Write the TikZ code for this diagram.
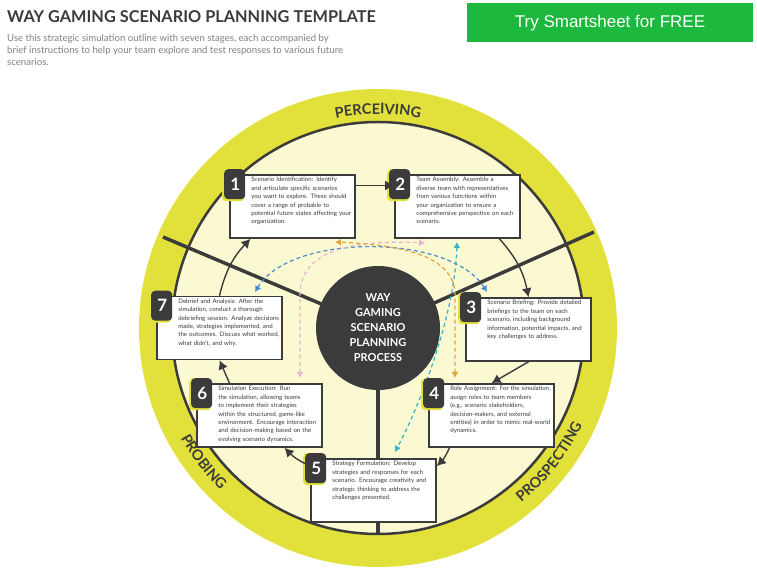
\documentclass[tikz,border=0pt]{standalone}
\usepackage{fontspec}
\setmainfont{Lato}
\newfontfamily\btnfont{Liberation Sans}
\usetikzlibrary{positioning,arrows.meta,decorations.text}
\hyphenpenalty=10000
\exhyphenpenalty=10000
\definecolor{ringyellow}{HTML}{E2E13B}
\definecolor{cream}{HTML}{FBF9D2}
\definecolor{darkgray}{HTML}{3B3B3B}
\definecolor{btngreen}{HTML}{1DB93E}
\definecolor{dblue}{HTML}{4A8BD0}
\definecolor{dpink}{HTML}{E8B4CC}
\definecolor{dorange}{HTML}{E8A23C}
\definecolor{dteal}{HTML}{3BB3C3}
\tikzset{
  stagebox/.style={draw=darkgray,line width=1.6pt,fill=white,minimum width=125pt,minimum height=63pt},
  stagetext/.style={anchor=north west,text width=101pt,align=left,
    font=\fontsize{6.1}{8.4}\selectfont,text=darkgray,inner sep=0pt},
  flow/.style={line width=1.4pt,darkgray,-{Latex[length=9pt,width=10pt]}},
  dashflow/.style={line width=1.2pt,dashed,dash pattern=on 4pt off 3pt,{Latex[length=6pt,width=7pt]}-{Latex[length=6pt,width=7pt]}},
  spoke/.style={line width=3.5pt,darkgray},
  ringlabel/.style={decorate,decoration={text along path,text align=center,
    text={|\fontsize{14.5}{14.5}\selectfont\bfseries\color{darkgray}|#1}}}
}
\newcommand{\stage}[4]{%
  \node[stagebox] (#1) at (#2) {};
  \fill[ringyellow,rounded corners=4pt] ([xshift=-7pt,yshift=5pt]#1.north west) rectangle ++(22pt,-32pt);
  \fill[darkgray,rounded corners=4pt] ([xshift=-5pt,yshift=5pt]#1.north west) rectangle ++(21pt,-30pt);
  \node[text=white,font=\fontsize{17}{17}\selectfont\bfseries] at ([xshift=6pt,yshift=-10pt]#1.north west) {#3};
  \node[stagetext] at ([xshift=22pt,yshift=-3pt]#1.north west) {#4};
}
\begin{document}
\begin{tikzpicture}[x=1pt,y=1pt]
  \useasboundingbox[fill=white] (0,0) rectangle (757,575);

  % Heading
  \node[anchor=west,font=\fontsize{16.3}{17}\selectfont\bfseries,text=darkgray,inner sep=0pt] (title) at (7,558) {WAY GAMING SCENARIO PLANNING TEMPLATE};
  \node[anchor=north west,align=left,font=\fontsize{9.6}{12}\selectfont,text=gray,inner sep=0pt] (intro) at (7,541)
    {Use this strategic simulation outline with seven stages, each accompanied by\\
     brief instructions to help your team explore and test responses to various future\\
     scenarios.};
  \node[fill=btngreen,minimum width=286pt,minimum height=39pt,text=white,font=\btnfont\fontsize{17}{17}\selectfont] (btn) at (610,552) {Try Smartsheet for FREE};

  % Wheel
  \fill[ringyellow] (378,247) circle (239);
  \draw[fill=cream,draw=darkgray,line width=2.5pt] (378,247) circle (206);
  \draw[spoke] (378,247) -- (163,338);
  \draw[spoke] (378,247) -- (594,343);
  \draw[spoke] (378,247) -- (378,41);
  \node[circle,fill=darkgray,minimum size=124pt,align=center,text=white,
        font=\fontsize{11}{15}\selectfont\bfseries] (hub) at (378,247) {WAY\\GAMING\\SCENARIO\\PLANNING\\PROCESS};

  \path[ringlabel=PERCEIVING] (378,247) ++(112:214) arc (112:68:214);
  \path[ringlabel=PROBING] (378,247) ++(195:226) arc (195:240:226);
  \path[ringlabel=PROSPECTING] (378,247) ++(295:226) arc (295:349:226);

  % Dashed links
  \coordinate (blueA) at (255,283);
  \coordinate (blueB) at (487,283);
  \coordinate (pinkA) at (300,197);
  \coordinate (pinkB) at (425,332);
  \coordinate (orA) at (455,197);
  \coordinate (orB) at (335,333);
  \coordinate (tealA) at (457,333);
  \coordinate (tealB) at (395,123);
  \draw[dashflow,dblue] (blueA) .. controls (290,342) and (450,342) .. (blueB);
  \draw[dashflow,dpink] (pinkA) -- (300,280) .. controls (300,328) and (360,335) .. (pinkB);
  \draw[dashflow,dorange] (orA) -- (455,280) .. controls (455,320) and (400,330) .. (orB);
  \draw[dashflow,dteal] (tealA) .. controls (455,260) and (420,170) .. (tealB);

  % Stages
  \stage{s1}{292.5,368.5}{1}{Scenario Identification: Identify and articulate specific scenarios you want to explore. These should cover a range of probable to potential future states affecting your organization.}
  \stage{s2}{457.5,368.5}{2}{Team Assembly: Assemble a diverse team with representatives from various functions within your organization to ensure a comprehensive perspective on each scenario.}
  \stage{s3}{528.5,245.5}{3}{Scenario Briefing: Provide detailed briefings to the team on each scenario, including background information, potential impacts, and key challenges to address.}
  \stage{s4}{491.5,159.5}{4}{Role Assignment: For the simulation, assign roles to team members (e.g., scenario stakeholders, decision-makers, and external entities) in order to mimic real-world dynamics.}
  \stage{s5}{373.5,84.5}{5}{Strategy Formulation: Develop strategies and responses for each scenario. Encourage creativity and strategic thinking to address the challenges presented.}
  \stage{s6}{259.5,159.5}{6}{Simulation Execution: Run the simulation, allowing teams to implement their strategies within the structured, game-like environment. Encourage interaction and decision-making based on the evolving scenario dynamics.}
  \stage{s7}{219.5,247}{7}{Debrief and Analysis: After the simulation, conduct a thorough debriefing session. Analyze decisions made, strategies implemented, and the outcomes. Discuss what worked, what didn't, and why.}

  % Flow
  \draw[flow] ([yshift=21]s1.east) -- ([yshift=21]s2.west);
  \draw[flow] ([xshift=42]s2.south) to[bend left=15] (s3.north);
  \draw[flow] (s3.south) -- (s4.north);
  \draw[flow] ([xshift=-42]s4.south) to[bend left=10] ([yshift=-8]s5.north east);
  \draw[flow] ([yshift=-8]s5.north west) to[bend left=10] ([xshift=25]s6.south);
  \draw[flow] ([xshift=-30]s6.north) -- (s7.south);
  \draw[flow] (s7.north) to[bend left=15] ([xshift=-42]s1.south);
\end{tikzpicture}
\end{document}
